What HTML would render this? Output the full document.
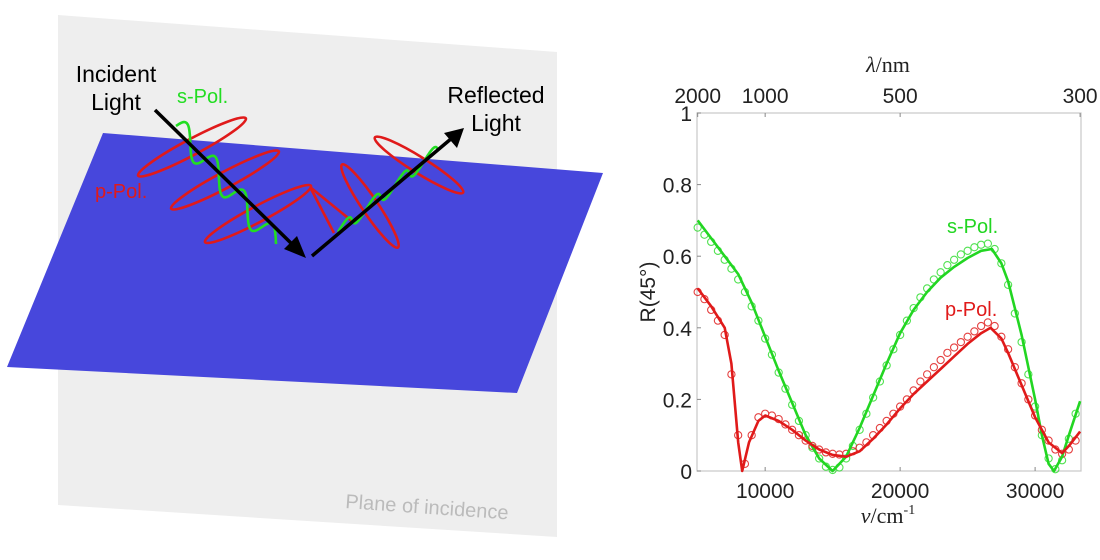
<!DOCTYPE html>
<html><head><meta charset="utf-8"><style>
html,body{margin:0;padding:0;background:#fff;width:1100px;height:560px;overflow:hidden}
svg{display:block}
text{font-family:"Liberation Sans",sans-serif}
text.serif{font-family:"Liberation Serif",serif}
</style></head><body>
<svg id="root" width="1100" height="560" viewBox="0 0 1100 560">
 <g>
  <polygon points="58,15 557,52 557,537 58,505" fill="#eeeeee"/>
  <polygon points="103,133 603,173 517,393 7,367" fill="#4747dc"/>
  <g id="waves" fill="none" stroke-width="2.6">
   <polyline points="310,187 334,233" stroke="#e01a1a"/>
   <polyline points="310,187 353,222" stroke="#e01a1a"/>
  </g>
  <g>
   <line x1="155" y1="110" x2="295" y2="247" stroke="#000" stroke-width="3.5"/>
   <polygon points="306,258 284,249 297,236" fill="#000"/>
  </g>
  <g>
   <line x1="312" y1="256" x2="452" y2="138" stroke="#000" stroke-width="3.5"/>
   <polygon points="464,128 457,148 444,133" fill="#000"/>
  </g>
  <text x="116" y="82" font-size="23" text-anchor="middle">Incident</text>
  <text x="116" y="110" font-size="23" text-anchor="middle">Light</text>
  <text x="177" y="103" font-size="20" fill="#22dd22">s-Pol.</text>
  <text x="95" y="198" font-size="20" fill="#e01a1a">p-Pol.</text>
  <text x="496" y="103" font-size="23" text-anchor="middle">Reflected</text>
  <text x="496" y="131" font-size="23" text-anchor="middle">Light</text>
  <text x="345" y="508" font-size="20" fill="#bbbbbb" transform="rotate(4 345 508)">Plane of incidence</text>
 </g>
 <g id="chart"></g>
</svg>
<script>
const NS='http://www.w3.org/2000/svg';
function mk(tag,attrs,parent){const e=document.createElementNS(NS,tag);for(const k in attrs)e.setAttribute(k,attrs[k]);parent.appendChild(e);return e;}
// ---- diagram waves (decorative) ----
const W=document.getElementById('waves');
const pEll=[[192,147,-28,61],[225,180,-28,61],[258,214,-28,60],[370,206,56,50],[419,165,32,52]];
pEll.forEach(function(p){
 const e=mk('ellipse',{cx:p[0],cy:p[1],rx:p[3],ry:8,stroke:'#e01a1a',transform:'rotate('+p[2]+' '+p[0]+' '+p[1]+')'},W);
 
 
});
function sine(x0,y0,x1,y1,amp,cycles){let d='';const dx=x1-x0,dy=y1-y0;
 for(let i=0;i<=160;i++){const t=i/160,s=amp*Math.sin(t*cycles*2*Math.PI);const X=x0+dx*t+s*0.35,Y=y0+dy*t-s;d+=(i?'L':'M')+X.toFixed(1)+','+Y.toFixed(1);}return d;}
let sp=mk('path',{d:sine(176,126,276,244,11,3.5),stroke:'#22dd22'},W);


let sr=mk('path',{d:sine(338,232,438,150,8,3.5),stroke:'#22dd22'},W);



// ---- chart data ----
const xTicks=[10000,20000,30000];
const yTicks=[0,0.2,0.4,0.6,0.8,1];
const yTickLabels=['0','0.2','0.4','0.6','0.8','1'];
const topTicks=[2000,1000,500,300];
const sLineX=[5000,7000,8000,9000,10000,11000,12000,13000,14000,15000,16000,17000,18000,19000,20000,21000,22000,23000,24000,25000,26000,26800,27500,28000,29000,30000,30500,31000,31400,32000,32500,33333];
const sLineY=[0.70,0.60,0.55,0.47,0.375,0.28,0.19,0.10,0.035,0.0,0.04,0.12,0.21,0.30,0.385,0.45,0.50,0.54,0.57,0.595,0.615,0.62,0.58,0.53,0.38,0.20,0.10,0.02,0.0,0.04,0.10,0.195];
const pLineX=[5000,6000,7000,7500,8000,8300,8800,9500,10000,11000,12000,13000,14000,15000,16000,17000,18000,19000,20000,21000,22000,23000,24000,25000,26000,26700,27500,28000,29000,30000,31000,32000,32500,33333];
const pLineY=[0.51,0.46,0.40,0.30,0.08,0.0,0.08,0.14,0.155,0.14,0.115,0.085,0.06,0.045,0.04,0.055,0.09,0.13,0.175,0.215,0.25,0.285,0.32,0.355,0.385,0.40,0.37,0.33,0.24,0.15,0.08,0.05,0.07,0.11];
const markX=[5000,5500,6000,6500,7000,7500,8000,8500,9000,9500,10000,10500,11000,11500,12000,12500,13000,13500,14000,14500,15000,15500,16000,16500,17000,17500,18000,18500,19000,19500,20000,20500,21000,21500,22000,22500,23000,23500,24000,24500,25000,25500,26000,26500,27000,27500,28000,28500,29000,29500,30000,30500,31000,31500,32000,32500,33000];
const sMarkY=[0.68,0.66,0.64,0.615,0.59,0.565,0.535,0.50,0.46,0.42,0.37,0.325,0.275,0.23,0.185,0.14,0.10,0.065,0.035,0.012,0.003,0.01,0.035,0.07,0.115,0.16,0.205,0.25,0.295,0.34,0.38,0.42,0.455,0.485,0.51,0.535,0.555,0.575,0.59,0.605,0.615,0.625,0.632,0.635,0.62,0.58,0.52,0.44,0.36,0.27,0.18,0.10,0.035,0.005,0.03,0.09,0.16];
const pMarkY=[0.50,0.48,0.45,0.42,0.38,0.27,0.10,0.02,0.10,0.15,0.16,0.155,0.145,0.13,0.115,0.10,0.085,0.07,0.06,0.052,0.048,0.046,0.048,0.055,0.065,0.08,0.10,0.12,0.14,0.16,0.18,0.20,0.225,0.25,0.27,0.29,0.31,0.33,0.345,0.36,0.375,0.39,0.405,0.415,0.405,0.375,0.34,0.29,0.245,0.20,0.155,0.115,0.085,0.06,0.048,0.06,0.085];

const X0=697,X1=1081,Y0=471,Y1=113,XMIN=4950,XMAX=33400;
function xs(v){return X0+(v-XMIN)/(XMAX-XMIN)*(X1-X0);}
function ys(v){return Y0+(Y1-Y0)*v;}
const C=document.getElementById('chart');
let box=mk('rect',{x:X0,y:Y1,width:X1-X0,height:Y0-Y1,fill:'#fff',stroke:'#c8c8c8','stroke-width':1.2},C);


xTicks.forEach(function(v){
 mk('line',{x1:xs(v),x2:xs(v),y1:Y0,y2:Y0-4,stroke:'#888'},C);
 const t=mk('text',{x:xs(v),y:Y0+27,'font-size':21,'text-anchor':'middle',fill:'#222'},C);t.textContent=v;
 
 
});
yTicks.forEach(function(v,i){
 mk('line',{x1:X0,x2:X0+4,y1:ys(v),y2:ys(v),stroke:'#888'},C);
 const t=mk('text',{x:X0-5,y:ys(v)+8,'font-size':21,'text-anchor':'end',fill:'#222'},C);t.textContent=yTickLabels[i];
 
 
});
topTicks.forEach(function(l){
 const x=xs(1e7/l);
 mk('line',{x1:x,x2:x,y1:Y1,y2:Y1+4,stroke:'#888'},C);
 const t=mk('text',{x:x,y:Y1-10,'font-size':21,'text-anchor':'middle',fill:'#222'},C);t.textContent=l;
 
 
});
function series(xa,ya,col,name){
 let d='';xa.forEach(function(x,i){d+=(i?'L':'M')+xs(x).toFixed(1)+','+ys(ya[i]).toFixed(1);});
 const p=mk('path',{d:d,fill:'none',stroke:col,'stroke-width':2.6,'stroke-linejoin':'round'},C);
 
 
}
function markers(xa,ya,col,name){
 const g=mk('g',{fill:'none',stroke:col,'stroke-width':1.1,opacity:0.85},C);
 
 
 xa.forEach(function(x,i){mk('circle',{cx:xs(x),cy:ys(ya[i]),r:3.6},g);});
}
markers(markX,sMarkY,'#33dd33','s-pol-measured-markers');
markers(markX,pMarkY,'#e02020','p-pol-measured-markers');
series(sLineX,sLineY,'#22d622','s-pol-fit-line');
series(pLineX,pLineY,'#e01a1a','p-pol-fit-line');
let l1=mk('text',{x:947,y:233,'font-size':20,fill:'#22d622'},C);l1.textContent='s-Pol.';


let l2=mk('text',{x:945,y:316,'font-size':20,fill:'#e01a1a'},C);l2.textContent='p-Pol.';


let yl=mk('text',{x:655,y:292,'font-size':21,'text-anchor':'middle',fill:'#222',transform:'rotate(-90 655 292)'},C);yl.textContent='R(45°)';


let tl=mk('text',{x:888,y:72,'font-size':22,'text-anchor':'middle',fill:'#222','class':'serif'},C);
tl.innerHTML='<tspan font-style="italic">λ</tspan>/nm';


let bl=mk('text',{x:888,y:523,'font-size':22,'text-anchor':'middle',fill:'#222','class':'serif'},C);
bl.innerHTML='<tspan font-style="italic">ν</tspan>/cm<tspan font-size="14" dy="-9">-1</tspan>';


</script>
</body></html>
